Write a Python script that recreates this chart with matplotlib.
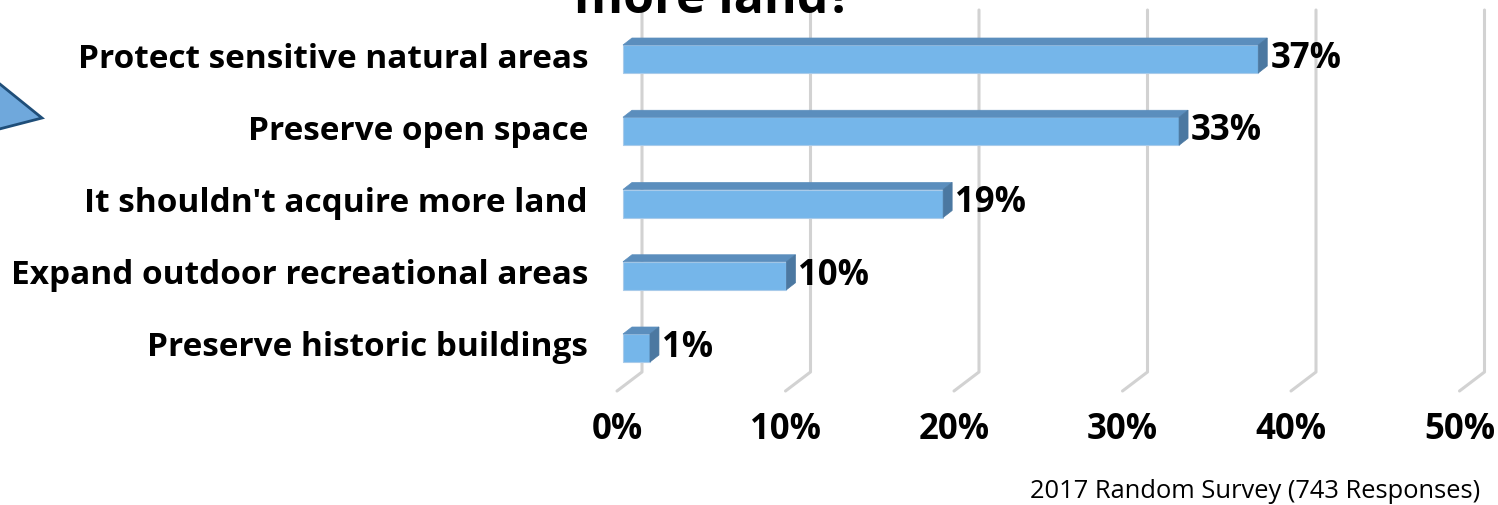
import matplotlib
matplotlib.use('agg')
import matplotlib.pyplot as plt
from matplotlib.patches import Polygon
import numpy as np

# datos
categorias = ['Protect sensitive natural areas', 'Preserve open space',
              "It shouldn't acquire more land", 'Expand outdoor recreational areas',
              'Preserve historic buildings']
valores = [37.7, 33.0, 19.0, 9.7, 1.6]
etiquetas = ['37%', '33%', '19%', '10%', '1%']
ticks = [0, 10, 20, 30, 40, 50]
tick_labels = ['0%', '10%', '20%', '30%', '40%', '50%']

W, H = 1498, 505
plt.rcParams['font.family'] = ['Open Sans', 'DejaVu Sans']

fig = plt.figure(figsize=(W / 100, H / 100), dpi=100)
ax = fig.add_axes([0, 0, 1, 1])

# escala: pixeles por unidad
px_x = 16.85   # px por 1%
px_y = 72.25   # px por categoria
x0_px, y0_px = 623, 59
ax.set_xlim(-x0_px / px_x, (W - x0_px) / px_x)
ax.set_ylim((H - y0_px) / px_y, -y0_px / px_y)
ax.axis('off')

def dx(p):
    return p / px_x

def dy(p):
    return p / px_y

# pared del fondo y piso (efecto 3D)
back_dx = dx(19)
front_dx = dx(-6)
top_y = dy(10 - y0_px)
floor_y = dy(372 - y0_px)
for t in ticks:
    xb = t + back_dx
    ax.plot([xb, xb, t + front_dx], [top_y, floor_y, floor_y + dy(19)],
            color='#d2d2d2', lw=2.2, solid_capstyle='round', zorder=1)

# barras con caras superior y lateral
y = np.arange(len(categorias))
alto = dy(28)
ddx, ddy = dx(9), dy(-7)
ax.barh(y, valores, height=alto, color='#75b6ea', edgecolor='#a9cbea',
        linewidth=0.8, zorder=3)
for yi, v in zip(y, valores):
    top = yi - alto / 2
    bot = yi + alto / 2
    ax.add_patch(Polygon([(0, top), (ddx, top + ddy), (v + ddx, top + ddy), (v, top)],
                         closed=True, facecolor='#5b8ebd', edgecolor='#5b8ebd', lw=0.5, zorder=3))
    ax.add_patch(Polygon([(v, top), (v + ddx, top + ddy), (v + ddx, bot + ddy), (v, bot)],
                         closed=True, facecolor='#4b78a1', edgecolor='#4b78a1', lw=0.5, zorder=3))

# etiquetas
for yi, v, lab in zip(y, valores, etiquetas):
    ax.text(v + ddx + dx(3), yi, lab, ha='left', va='center',
            fontsize=25, fontweight='bold', color='black', zorder=4)
for yi, cat in zip(y, categorias):
    ax.text(dx(-35), yi, cat, ha='right', va='center',
            fontsize=24, fontweight='bold', color='black')
for t, lab in zip(ticks, tick_labels):
    ax.text(t + front_dx, dy(430 - y0_px), lab, ha='center', va='center',
            fontsize=25, fontweight='bold', color='black')

# titulo cortado arriba
fig.text(713 / W, 1 - 13 / H, 'more land?', ha='center', va='baseline',
         fontsize=36, fontweight='bold', color='black')

# flecha a la izquierda
fig.patches.append(Polygon([(-20 / W, 1 - 68 / H), (42 / W, 1 - 118 / H), (-20 / W, 1 - 134 / H)],
                           closed=True, transform=fig.transFigure, facecolor='#6fa8dc',
                           edgecolor='#1f4e79', lw=2, figure=fig))

fig.text(1480 / W, 1 - 491 / H, '2017 Random Survey (743 Responses)', ha='right',
         va='center', fontsize=18.4, color='black')

plt.savefig('out.png', dpi=100)
